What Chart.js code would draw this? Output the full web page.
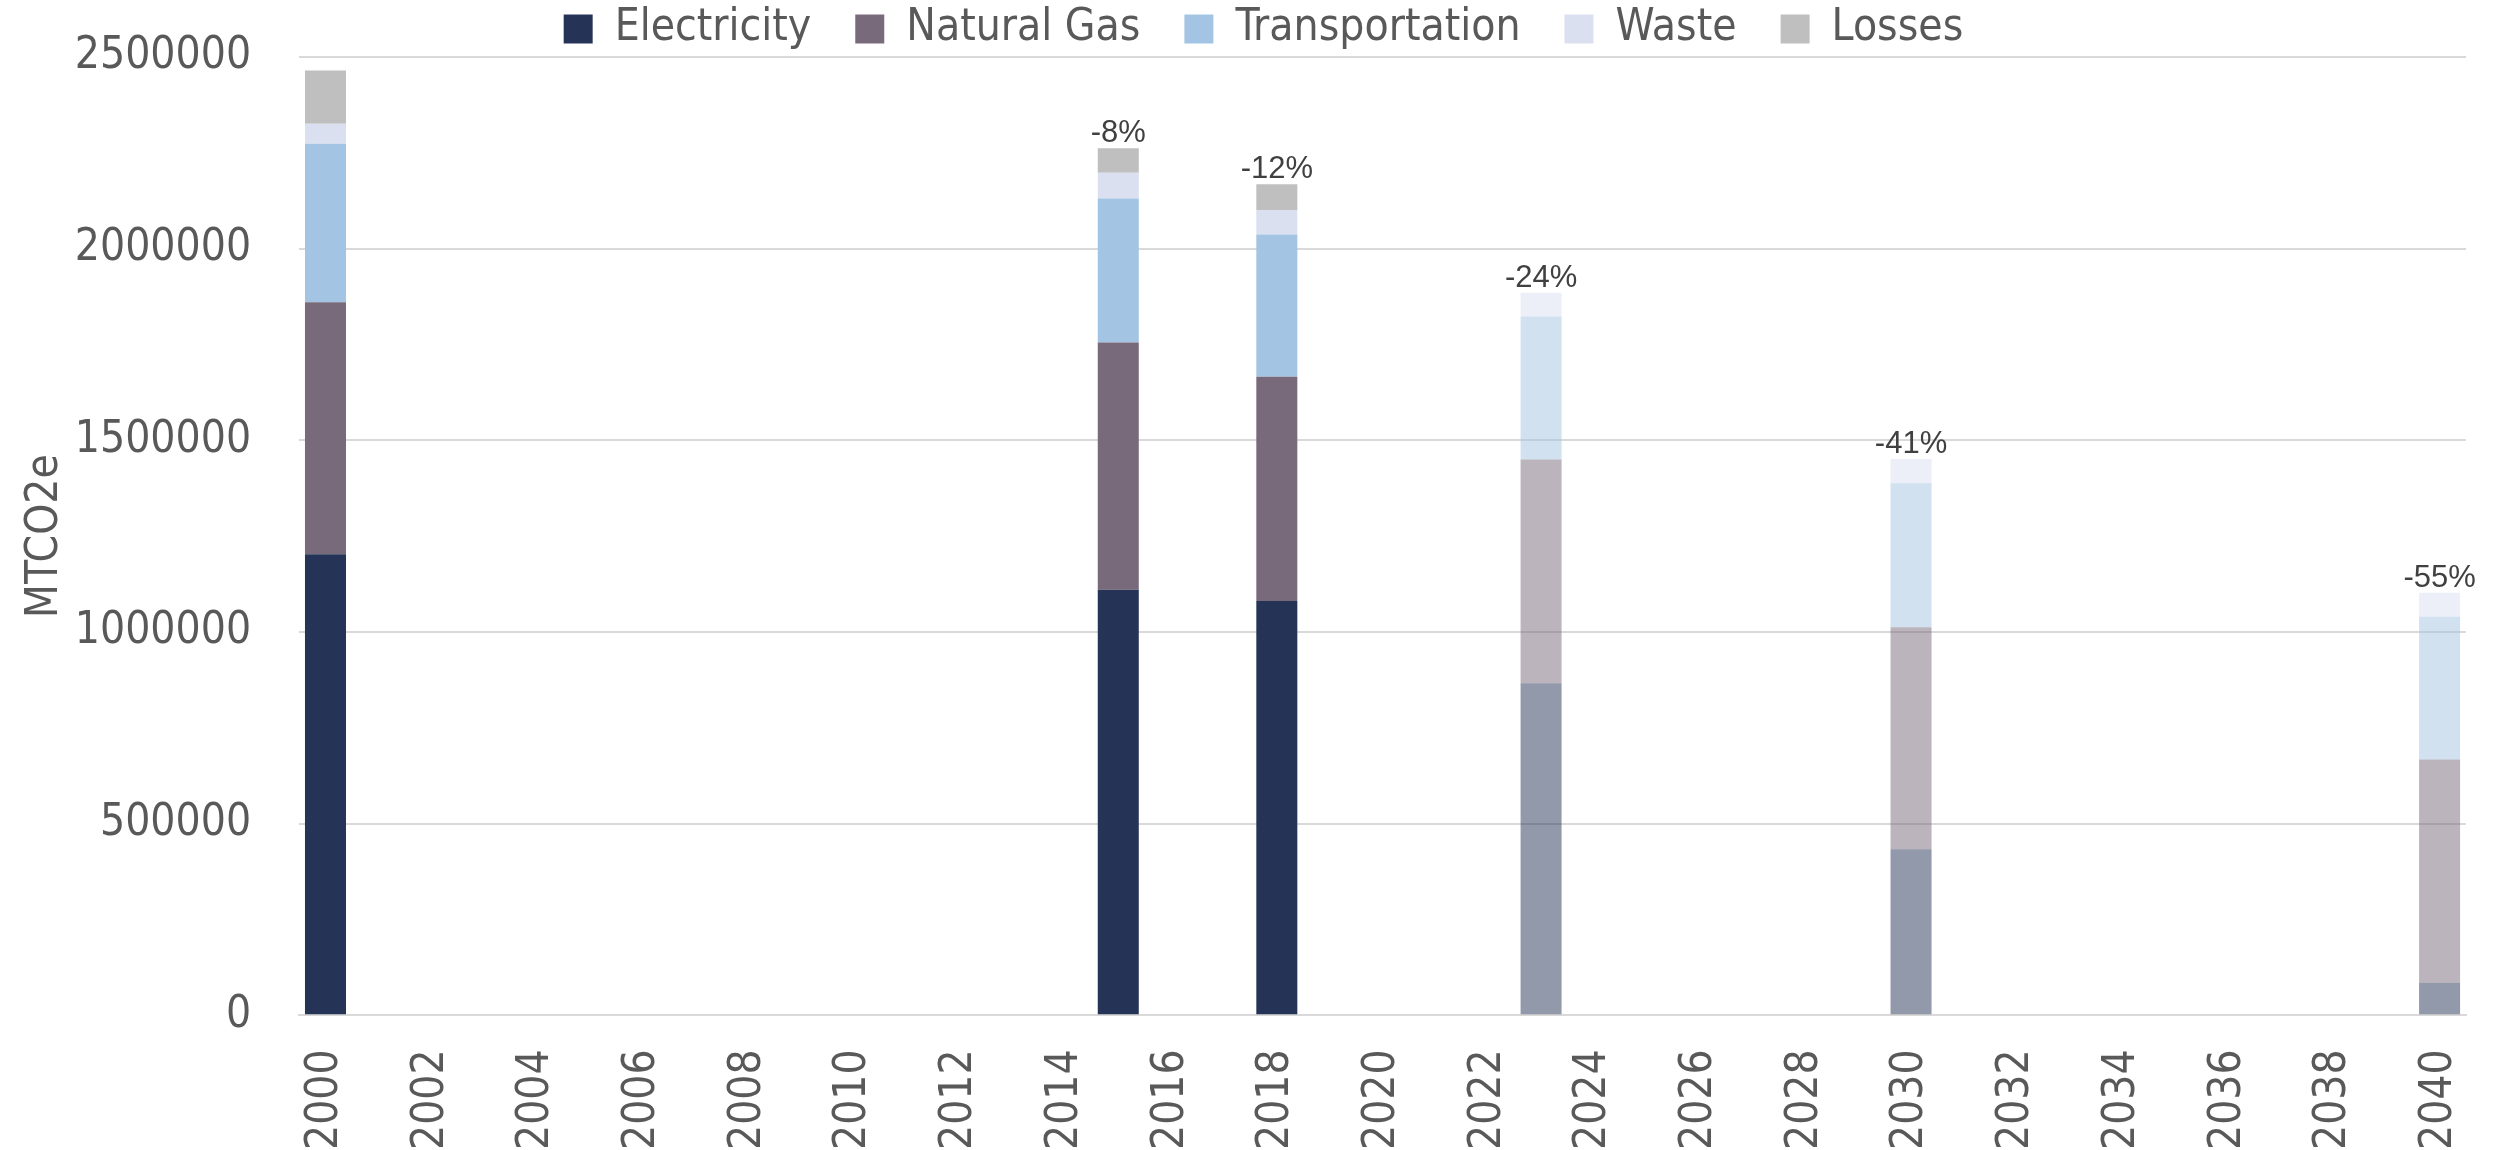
<!DOCTYPE html>
<html>
<head>
<meta charset="utf-8">
<script src="https://cdn.jsdelivr.net/npm/chart.js@4/dist/chart.umd.min.js"></script>
<style>
  html, body { margin: 0; padding: 0; background: #ffffff; }
  #wrap { width: 2506px; height: 1150px; }
</style>
</head>
<body>
<div id="wrap"><canvas id="c" width="2506" height="1150"></canvas></div>
<script>
// ---- data ----
const years = ['2000', '2015', '2018', '2023', '2030', '2040'];
const projected = [false, false, false, true, true, true];
const electricity    = [1203000, 1110000, 1081000, 866000, 433000, 85000];
const naturalGas     = [657000, 645000, 585000, 584000, 579000, 582000];
const transportation = [414000, 376000, 371000, 373000, 376000, 373000];
const waste          = [52000, 67000, 64000, 62000, 63000, 62000];
const losses         = [139000, 64000, 67000, null, null, null];
const changeLabels   = ['', '-8%', '-12%', '-24%', '-41%', '-55%'];
const yTicks = [0, 500000, 1000000, 1500000, 2000000, 2500000];

// x axis categories: every year from 2000 to 2040
const axisYears = [];
for (let y = 2000; y <= 2040; y++) axisYears.push(String(y));

const NARROW = "'Liberation Sans Narrow', 'Arial Narrow', 'DejaVu Sans Condensed', sans-serif";
const TEXT = '#595959';
const FS = 44;

function series(label, values, solid, faded) {
  return {
    label: label,
    data: years.map((yr, i) => ({ x: yr, y: values[i] })),
    backgroundColor: (ctx) => projected[ctx.dataIndex] ? faded : solid,
    borderWidth: 0,
    categoryPercentage: 1.0,
    barPercentage: 0.776,
    _legendColor: solid
  };
}

const datasets = [
  series('Electricity', electricity, '#253456', 'rgba(37,52,86,0.5)'),
  series('Natural Gas', naturalGas, '#786a7b', 'rgba(120,106,123,0.5)'),
  series('Transportation', transportation, '#a3c4e2', 'rgba(163,196,226,0.5)'),
  series('Waste', waste, '#dae0ef', 'rgba(218,224,239,0.5)'),
  series('Losses', losses, '#bfbfbf', 'rgba(191,191,191,0.5)')
];

const LEG_PAD = 44;
const legendTweak = {
  id: 'legendTweak',
  beforeInit(chart) {
    const leg = chart.legend;
    if (!leg) return;
    const origFit = leg.fit;
    leg.fit = function () {
      origFit.call(this);
      this.height = 57;
    };
  },
  afterLayout(chart) {
    if (chart.legend) {
      chart.legend.top = 7 - LEG_PAD;
      chart.legend.left += 21;
      chart.legend.right += 21;
    }
  }
};

const changeLabelPlugin = {
  id: 'changeLabels',
  afterDatasetsDraw(chart) {
    const ctx = chart.ctx;
    ctx.save();
    ctx.font = "31px 'Liberation Sans', Arial, sans-serif";
    ctx.fillStyle = '#404040';
    ctx.textAlign = 'center';
    ctx.textBaseline = 'alphabetic';
    years.forEach((yr, i) => {
      if (!changeLabels[i]) return;
      let top = Infinity, x = null;
      chart.data.datasets.forEach((ds, di) => {
        const el = chart.getDatasetMeta(di).data[i];
        if (el && ds.data[i].y != null && isFinite(el.y)) {
          if (el.y < top) { top = el.y; x = el.x; }
        }
      });
      if (x !== null) ctx.fillText(changeLabels[i], x, top - 6);
    });
    ctx.restore();
  }
};

new Chart(document.getElementById('c'), {
  type: 'bar',
  data: { labels: axisYears, datasets: datasets },
  options: {
    responsive: false,
    animation: false,
    devicePixelRatio: 1,
    layout: { padding: { left: 19, right: 40, top: 0, bottom: -4 } },
    plugins: {
      tooltip: { enabled: false },
      legend: {
        position: 'top',
        align: 'center',
        labels: {
          color: TEXT,
          font: { family: NARROW, size: FS },
          boxWidth: 29,
          boxHeight: 29,
          padding: LEG_PAD,
          generateLabels(chart) {
            return chart.data.datasets.map((ds, i) => ({
              text: ds.label,
              fillStyle: ds._legendColor,
              strokeStyle: ds._legendColor,
              lineWidth: 0,
              hidden: false,
              datasetIndex: i,
              fontColor: TEXT
            }));
          }
        }
      }
    },
    scales: {
      x: {
        stacked: true,
        offset: true,
        grid: { display: true, drawOnChartArea: false, drawTicks: true, tickLength: 30, tickColor: 'rgba(0,0,0,0)', color: 'rgba(0,0,0,0)' },
        border: { display: true, color: '#d9d9d9', width: 2 },
        ticks: {
          autoSkip: false,
          maxRotation: 90,
          minRotation: 90,
          padding: 4,
          color: TEXT,
          font: { family: NARROW, size: FS },
          callback: function (value) {
            const lbl = this.getLabelForValue(value);
            return (Number(lbl) % 2 === 0) ? lbl : '';
          }
        }
      },
      y: {
        stacked: true,
        min: 0,
        max: 2500000,
        afterBuildTicks(scale) { scale.ticks = yTicks.map(v => ({ value: v })); },
        grid: { color: '#d9d9d9', lineWidth: 2, drawTicks: true, tickLength: 45, tickColor: 'rgba(0,0,0,0)' },
        border: { display: false },
        ticks: {
          padding: 3,
          color: TEXT,
          font: { family: NARROW, size: FS },
          callback: (v) => String(v)
        },
        title: {
          display: true,
          text: 'MTCO2e',
          color: TEXT,
          font: { family: NARROW, size: FS },
          padding: { top: 0, bottom: 0 }
        }
      }
    }
  },
  plugins: [legendTweak, changeLabelPlugin]
});
</script>
</body>
</html>
